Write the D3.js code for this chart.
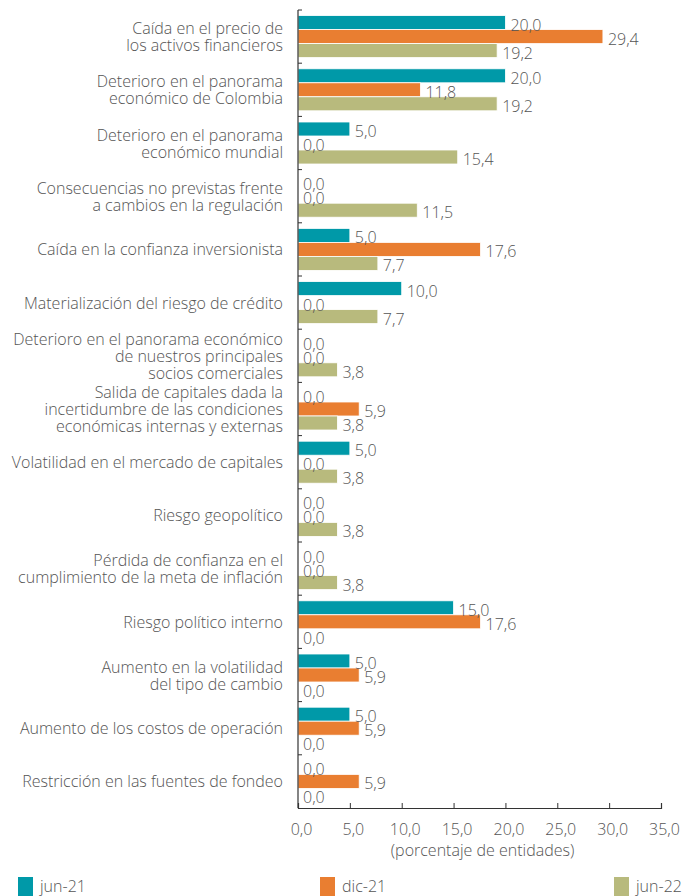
<!DOCTYPE html>
<html>
<head>
<meta charset="utf-8">
<script src="https://cdn.jsdelivr.net/npm/d3@7"></script>
<style>
  body { margin: 0; background: #fff; }
  svg text { font-family: "Open Sans", sans-serif; font-weight: 300; fill: #555; }
</style>
</head>
<body>
<div id="chart"></div>
<script>
// categories (line breaks as in the original)
const categories = [
  ["Caída en el precio de", "los activos financieros"],
  ["Deterioro en el panorama", "económico de Colombia"],
  ["Deterioro en el panorama", "económico mundial"],
  ["Consecuencias no previstas frente", "a cambios en la regulación"],
  ["Caída en la confianza inversionista"],
  ["Materialización del riesgo de crédito"],
  ["Deterioro en el panorama económico", "de nuestros principales", "socios comerciales"],
  ["Salida de capitales dada la", "incertidumbre de las condiciones", "económicas internas y externas"],
  ["Volatilidad en el mercado de capitales"],
  ["Riesgo geopolítico"],
  ["Pérdida de confianza en el", "cumplimiento de la meta de inflación"],
  ["Riesgo político interno"],
  ["Aumento en la volatilidad", "del tipo de cambio"],
  ["Aumento de los costos de operación"],
  ["Restricción en las fuentes de fondeo"]
];
const seriesNames = ["jun-21", "dic-21", "jun-22"];
const jun21 = [20.0, 20.0, 5.0, 0.0, 5.0, 10.0, 0.0, 0.0, 5.0, 0.0, 0.0, 15.0, 5.0, 5.0, 0.0];
const dic21 = [29.4, 11.8, 0.0, 0.0, 17.6, 0.0, 0.0, 5.9, 0.0, 0.0, 0.0, 17.6, 5.9, 5.9, 5.9];
const jun22 = [19.2, 19.2, 15.4, 11.5, 7.7, 7.7, 3.8, 3.8, 3.8, 3.8, 3.8, 0.0, 0.0, 0.0, 0.0];
const xTicks = [0, 5, 10, 15, 20, 25, 30, 35];
const colors = ["#0099a8", "#e97e31", "#b8ba7d"];

const W = 685, H = 896;
const margin = {top: 10, left: 298, right: 24, bottom: 88};
const width = W - margin.left - margin.right;
const height = H - margin.top - margin.bottom;
const fs = "16px";
const fmt = v => d3.format(".1f")(v).replace(".", ",");

const data = categories.map((c, i) => ({
  key: i, label: c, values: [jun21[i], dic21[i], jun22[i]]
}));

const svg = d3.select("#chart").append("svg")
  .attr("width", W).attr("height", H);

const g = svg.append("g")
  .attr("transform", "translate(" + margin.left + "," + margin.top + ")");

const y = d3.scaleBand()
  .domain(data.map(d => d.key))
  .range([0, height])
  .padding(0);

const ySub = d3.scaleBand()
  .domain([0, 1, 2])
  .range([0, y.bandwidth()])
  .paddingInner(0)
  .paddingOuter(0.4);

const x = d3.scaleLinear().domain([0, 35]).range([0, 363]);

// bars
const groups = g.selectAll(".grp")
  .data(data)
  .enter().append("g")
  .attr("class", "grp")
  .attr("transform", d => "translate(0," + y(d.key) + ")");

groups.selectAll("rect")
  .data(d => d.values)
  .enter().append("rect")
  .attr("x", 0)
  .attr("y", (v, i) => ySub(i))
  .attr("width", v => x(v))
  .attr("height", ySub.bandwidth())
  .attr("fill", (v, i) => colors[i])
  .attr("stroke", "#fff")
  .attr("stroke-width", 0.8);

groups.selectAll(".val")
  .data(d => d.values)
  .enter().append("text")
  .attr("class", "val")
  .attr("x", v => x(v) + 5)
  .attr("y", (v, i) => ySub(i) + ySub.bandwidth() / 2 + 8)
  .style("font-size", fs)
  .text(v => fmt(v));

// category labels
const labels = g.selectAll(".cat")
  .data(data)
  .enter().append("text")
  .attr("class", "cat")
  .attr("text-anchor", "end")
  .style("font-size", fs)
  .attr("transform", d => "translate(-15," + (y(d.key) + y.bandwidth() / 2) + ")");

labels.selectAll("tspan")
  .data(d => d.label.map((t, i) => ({t: t, i: i, n: d.label.length})))
  .enter().append("tspan")
  .attr("x", 0)
  .attr("y", d => (d.i - (d.n - 1) / 2) * 17 + 6)
  .text(d => d.t);

// y axis: line plus ticks at band boundaries
const yAxis = g.append("g");
yAxis.append("line")
  .attr("x1", 0).attr("x2", 0).attr("y1", 0).attr("y2", height)
  .attr("stroke", "#333").attr("stroke-width", 1.2);
yAxis.selectAll(".bt")
  .data(data.map(d => y(d.key)))
  .enter().append("line")
  .attr("x1", 0).attr("x2", 4)
  .attr("y1", d => d).attr("y2", d => d)
  .attr("stroke", "#333");

// x axis
const xAxis = g.append("g")
  .attr("transform", "translate(0," + height + ")")
  .call(d3.axisBottom(x).tickValues(xTicks).tickSize(-5).tickPadding(16).tickFormat(fmt));
xAxis.select(".domain").attr("stroke", "#333").attr("stroke-width", 1.2);
xAxis.selectAll(".tick line").attr("stroke", "#333");
xAxis.selectAll("text")
  .style("font-family", "'Open Sans', sans-serif")
  .style("font-weight", 300)
  .style("font-size", fs)
  .attr("dx", 3)
  .attr("fill", "#555");

g.append("text")
  .attr("x", x(17.5) + 3)
  .attr("y", height + 48)
  .attr("text-anchor", "middle")
  .style("font-size", fs)
  .text("(porcentaje de entidades)");

// legend
const legendX = [18, 320, 614];
const legend = svg.selectAll(".leg")
  .data(seriesNames)
  .enter().append("g")
  .attr("class", "leg")
  .attr("transform", (d, i) => "translate(" + legendX[i] + ",877)");
legend.append("rect")
  .attr("width", 15).attr("height", 19)
  .attr("fill", (d, i) => colors[i]);
legend.append("text")
  .attr("x", 22).attr("y", 15)
  .style("font-size", fs)
  .text(d => d);
</script>
</body>
</html>
